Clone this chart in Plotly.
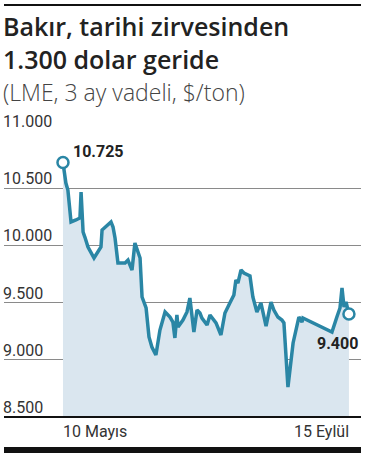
import plotly.graph_objects as go

# days since 10 May
days = [0, 1.3, 2.2, 3.6, 5.8, 7.6, 8.1, 9.0, 9.8, 11.2, 13.9, 15.7, 17.0, 17.5, 21.5, 22.4,
        23.3, 24.6, 27.8, 29.1, 30.9, 32.2, 34.5, 35.4, 37.2, 38.5, 39.8, 41.6, 43.4, 45.7,
        47.9, 49.2, 50.1, 51.0, 51.5, 53.7, 55.5, 56.8, 58.6, 60.0, 61.3, 62.2, 64.5, 65.8,
        68.5, 70.7, 72.5, 74.7, 76.5, 77.4, 78.3, 79.7, 81.0, 83.7, 85.0, 86.8, 88.6, 90.9,
        93.1, 94.4, 96.2, 98.0, 98.9, 100.7, 103.0, 105.6, 107.0, 107.4, 120.4, 122.6, 124.0,
        124.9, 125.8, 126.7, 128]
prices = [10725, 10545, 10484, 10205, 10222, 10240, 10467, 10117, 10073, 9986, 9890, 9942,
          9986, 10135, 10205, 10161, 10065, 9846, 9846, 9872, 9785, 10021, 9890, 9549, 9453,
          9199, 9112, 9042, 9260, 9418, 9374, 9330, 9191, 9392, 9287, 9348, 9418, 9540, 9243,
          9435, 9409, 9365, 9304, 9392, 9322, 9217, 9409, 9497, 9566, 9698, 9671, 9785, 9759,
          9733, 9549, 9418, 9497, 9295, 9505, 9435, 9374, 9348, 9322, 8762, 9147, 9374, 9330,
          9365, 9243, 9374, 9453, 9628, 9462, 9505, 9400]

y_ticks = [8500, 9000, 9500, 10000, 10500, 11000]
y_labels = ["8.500", "9.000", "9.500", "10.000", "10.500", "11.000"]
x_label_start = "10 Mayıs"
x_label_end = "15 Eylül"
first_label = "10.725"
last_label = "9.400"

title_lines = ["Bakır, tarihi zirvesinden", "1.300 dolar geride"]
subtitle = "(LME, 3 ay vadeli, $/ton)"

LINE = "#2a86a5"
FILL = "#dae6ef"
FONT = "Roboto"
TFONT = "Open Sans"

fig = go.Figure()
fig.add_trace(go.Scatter(x=days, y=prices, mode="lines", fill="tozeroy", fillcolor=FILL,
                         line=dict(color=LINE, width=3.5), hoverinfo="skip"))
fig.add_trace(go.Scatter(x=[days[0], days[-1]], y=[prices[0], prices[-1]], mode="markers",
                         marker=dict(size=11, color="white", line=dict(color=LINE, width=2.5)),
                         hoverinfo="skip"))

ann = []
for v, t in zip(y_ticks, y_labels):
    ann.append(dict(x=0, xref="paper", xanchor="left", xshift=-3, y=v, yref="y",
                    yanchor="bottom", yshift=-2,
                    text=t, showarrow=False, font=dict(family=FONT, size=16, color="#333")))
ann.append(dict(x=days[0], xref="x", xanchor="left", xshift=-2, y=0, yref="paper",
                yanchor="top", yshift=-3, text=x_label_start, showarrow=False,
                font=dict(family=FONT, size=16, color="#333")))
ann.append(dict(x=days[-1], xref="x", xanchor="right", xshift=2, y=0, yref="paper",
                yanchor="top", yshift=-3, text=x_label_end, showarrow=False,
                font=dict(family=FONT, size=16, color="#333")))
ann.append(dict(x=days[0], xref="x", xanchor="left", xshift=8, y=prices[0], yref="y",
                yanchor="bottom", yshift=-1, text="<b>" + first_label + "</b>", showarrow=False,
                font=dict(family=FONT, size=16, color="#222")))
ann.append(dict(x=days[-1], xref="x", xanchor="right", xshift=11, y=prices[-1], yref="y",
                yanchor="top", yshift=-18, text="<b>" + last_label + "</b>", showarrow=False,
                font=dict(family=FONT, size=16, color="#222")))
ann.append(dict(x=0, xref="paper", xanchor="left", xshift=-3, y=1.3112, yref="paper",
                yanchor="middle", yshift=-1, align="left",
                text="<br>".join(title_lines), showarrow=False,
                font=dict(family=TFONT, size=25, color="#222", weight=600)))
ann.append(dict(x=0, xref="paper", xanchor="left", xshift=-3, y=1.1364, yref="paper",
                yanchor="middle",
                text=subtitle, showarrow=False,
                font=dict(family=TFONT, size=23, color="#444", weight=300)))

shapes = [
    dict(type="line", xref="paper", yref="paper", x0=0, x1=1, y0=1.4406, y1=1.4406,
         line=dict(color="#111", width=2)),
    dict(type="line", xref="paper", yref="paper", x0=0, x1=1, y0=0, y1=0,
         line=dict(color="#111", width=2)),
    dict(type="line", xref="paper", yref="paper", x0=0, x1=1, y0=-0.1154, y1=-0.1154,
         line=dict(color="#111", width=6)),
]

fig.update_layout(
    width=366, height=457,
    margin=dict(l=4, r=5, t=131, b=40),
    paper_bgcolor="white", plot_bgcolor="white",
    showlegend=False,
    annotations=ann, shapes=shapes,
    xaxis=dict(range=[-26.4, 133.4], showgrid=False, zeroline=False, showticklabels=False,
               showline=False, fixedrange=True),
    yaxis=dict(range=[8500, 11000], tickvals=y_ticks, showticklabels=False, showgrid=True,
               gridcolor="#8a8a8a", gridwidth=1, zeroline=False, showline=False,
               fixedrange=True),
)

fig.write_html("out.html", config={"displayModeBar": False},
               post_script="document.body.style.margin='0';document.body.style.overflow='hidden';")
